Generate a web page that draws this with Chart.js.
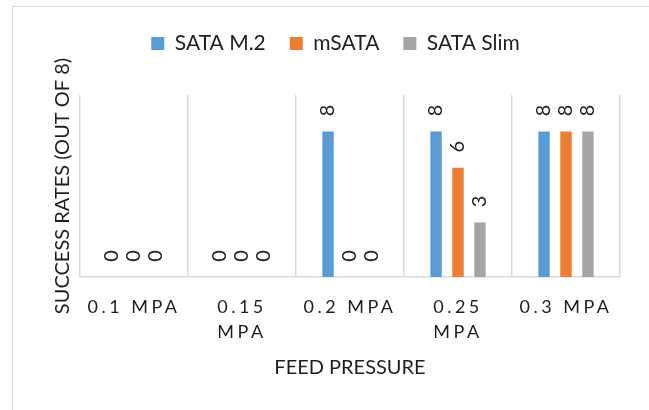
<!DOCTYPE html>
<html lang="en">
<head>
    <meta charset="UTF-8">
    <meta name="viewport" content="width=device-width, initial-scale=1.0">
    <title>Success rates by feed pressure</title>
    <script src="https://cdn.jsdelivr.net/npm/chart.js"></script>
    <style>
        body { margin: 0; overflow: hidden; background: #fff; }
        #frame {
            position: absolute; left: 12px; top: 6px; width: 700px; height: 500px;
            border-left: 1.5px solid #d9d9d9; border-top: 1.5px solid #d9d9d9;
        }
        #chart { position: absolute; left: 0; top: 0; }
    </style>
</head>
<body>
    <div id="frame"></div>
    <canvas id="chart" width="649" height="410"></canvas>

    <script>
        const categories = ['0.1 MPA', ['0.15', 'MPA'], '0.2 MPA', ['0.25', 'MPA'], '0.3 MPA'];
        const sataM2 = [0, 0, 8, 8, 8];
        const mSata = [0, 0, 0, 6, 8];
        const sataSlim = [0, 0, 0, 3, 8];

        const textColor = '#1e1e1e';
        Chart.defaults.font.family = 'Lato, "Open Sans", sans-serif';

        // extra room under the legend
        const legendGap = {
            id: 'legendGap',
            beforeInit(chart) {
                const fit = chart.legend.fit;
                chart.legend.fit = function () {
                    fit.call(this);
                    this.height = 86;
                };
            }
        };

        // rotated value labels, then spaced-out x tick labels (drawn on z 1)
        const valueLabels = {
            id: 'valueLabels',
            afterDatasetsDraw(chart) {
                const ctx = chart.ctx;
                ctx.save();
                ctx.font = '20px Lato';
                ctx.fillStyle = textColor;
                ctx.textAlign = 'center';
                ctx.textBaseline = 'middle';
                chart.data.datasets.forEach((ds, i) => {
                    chart.getDatasetMeta(i).data.forEach((bar, j) => {
                        ctx.save();
                        ctx.translate(bar.x, bar.y - 21);
                        ctx.rotate(-Math.PI / 2);
                        ctx.fillText(String(ds.data[j]), 0, 0);
                        ctx.restore();
                    });
                });
                ctx.restore();
                ctx.letterSpacing = '3.5px';
            },
            afterDraw(chart) {
                chart.ctx.letterSpacing = '0px';
            }
        };

        new Chart(document.getElementById('chart'), {
            type: 'bar',
            data: {
                labels: categories,
                datasets: [
                    { label: 'SATA M.2', data: sataM2, backgroundColor: '#5B9BD5' },
                    { label: 'mSATA', data: mSata, backgroundColor: '#ED7D31' },
                    { label: 'SATA Slim', data: sataSlim, backgroundColor: '#A5A5A5' }
                ]
            },
            options: {
                responsive: false,
                animation: false,
                devicePixelRatio: 1,
                categoryPercentage: 0.61,
                barPercentage: 0.52,
                layout: { padding: { top: 9, left: 51, right: 29, bottom: 0 } },
                plugins: {
                    legend: {
                        position: 'top',
                        labels: {
                            boxWidth: 13,
                            boxHeight: 13,
                            padding: 24,
                            color: textColor,
                            font: { size: 21 }
                        }
                    },
                    title: {
                        display: true,
                        position: 'bottom',
                        fullSize: false,
                        text: 'FEED PRESSURE',
                        color: textColor,
                        font: { size: 20, weight: 'normal', lineHeight: 1.2 },
                        padding: { top: 9, bottom: 30 }
                    },
                    tooltip: { enabled: false }
                },
                scales: {
                    x: {
                        grid: { color: '#d9d9d9', lineWidth: 1.5, drawTicks: false, offset: true },
                        border: { color: '#d9d9d9', width: 1.5 },
                        ticks: {
                            z: 1,
                            color: textColor,
                            font: { size: 18, lineHeight: 1.42 },
                            padding: 17,
                            autoSkip: false,
                            maxRotation: 0,
                            minRotation: 0
                        },
                        afterFit(scale) { scale.height = 70; }
                    },
                    y: {
                        min: 0,
                        max: 10,
                        grid: { display: false },
                        border: { display: false },
                        ticks: { display: false },
                        title: {
                            display: true,
                            text: 'SUCCESS RATES (OUT OF 8)',
                            color: textColor,
                            font: { size: 20, lineHeight: 1.2 },
                            padding: 0
                        },
                        afterFit(scale) { scale.width = 29; }
                    }
                }
            },
            plugins: [legendGap, valueLabels]
        });
    </script>
</body>
</html>
